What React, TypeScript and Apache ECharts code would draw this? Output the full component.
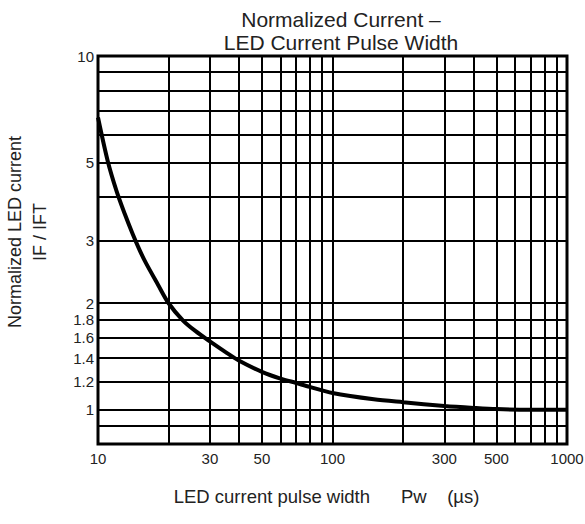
import React, { useEffect, useRef } from "react";
import * as echarts from "echarts";

const pulseWidth = [10, 11, 12, 13, 14, 15, 16, 18, 20, 23, 26, 30, 35, 40, 50, 60, 70, 80, 100, 150, 200, 300, 400, 500, 700, 1000];
const normCurrent = [6.7, 5.05, 4.15, 3.58, 3.16, 2.84, 2.6, 2.26, 2.0, 1.79, 1.67, 1.56, 1.455, 1.375, 1.28, 1.225, 1.19, 1.16, 1.115, 1.07, 1.05, 1.025, 1.012, 1.004, 1.0, 1.0];

const xGridValues = [10, 20, 30, 40, 50, 60, 70, 80, 90, 100, 200, 300, 400, 500, 600, 700, 800, 900, 1000];
const xLabelValues = [10, 30, 50, 100, 300, 500, 1000];
const yGridValues = [0.9, 1, 1.2, 1.4, 1.6, 1.8, 2, 3, 4, 5, 6, 7, 8, 9, 10];
const yLabelValues = [1, 1.2, 1.4, 1.6, 1.8, 2, 3, 5, 10];

const titleText = "Normalized Current –\nLED Current Pulse Width";
const yName = "Normalized LED current\nIF / IFT";
const xName = "LED current pulse width      Pw    (µs)";

const FONT = "'Liberation Sans', Arial, sans-serif";

export default function App() {
  const ref = useRef<HTMLDivElement>(null);
  useEffect(() => {
    if (!ref.current) return;
    const chart = echarts.init(ref.current, undefined, { renderer: "svg" });
    const fmt = (v: number) => String(Math.round(v * 10) / 10);
    chart.setOption({
      animation: false,
      textStyle: { fontFamily: FONT },
      title: {
        text: titleText,
        left: 341,
        top: 8,
        textAlign: "center",
        padding: 0,
        textStyle: { fontSize: 21, lineHeight: 23, fontWeight: "normal", color: "#222", fontFamily: FONT },
      },
      grid: {
        left: 98,
        right: 18,
        top: 56,
        bottom: 80,
        show: true,
        borderColor: "#000",
        borderWidth: 3,
        backgroundColor: "transparent",
        containLabel: false,
        outerBoundsMode: "none",
      },
      xAxis: {
        type: "log",
        logBase: 10,
        min: 10,
        max: 1000,
        name: xName,
        nameLocation: "middle",
        nameGap: 43,
        nameTextStyle: { fontSize: 18.5, color: "#222", fontFamily: FONT, padding: [0, 12, 0, 0] },
        axisLine: { show: false },
        axisTick: { show: false, customValues: xGridValues },
        axisLabel: { customValues: xLabelValues, formatter: fmt, fontSize: 15, color: "#222", margin: 7, fontFamily: FONT },
        splitLine: { show: true, lineStyle: { color: "#000", width: 2 } },
        minorSplitLine: { show: false },
      },
      yAxis: {
        type: "log",
        logBase: 10,
        min: 0.8,
        max: 10,
        name: yName,
        nameLocation: "middle",
        nameGap: 46,
        nameTextStyle: { fontSize: 18, lineHeight: 25, color: "#222", fontFamily: FONT, padding: [0, 0, 0, 36] },
        axisLine: { show: false },
        axisTick: { show: false, customValues: yGridValues },
        axisLabel: { customValues: yLabelValues, formatter: fmt, fontSize: 15, color: "#222", margin: 4, fontFamily: FONT },
        splitLine: { show: true, lineStyle: { color: "#000", width: 2 } },
        minorSplitLine: { show: false },
      },
      series: [
        {
          type: "line",
          data: pulseWidth.map((x, i) => [x, normCurrent[i]]),
          smooth: 0.3,
          showSymbol: false,
          symbol: "none",
          lineStyle: { color: "#000", width: 4 },
          z: 5,
        },
      ],
    });
    return () => chart.dispose();
  }, []);
  return <div ref={ref} style={{ width: 585, height: 524, position: "absolute", left: 0, top: 0 }} />;
}
